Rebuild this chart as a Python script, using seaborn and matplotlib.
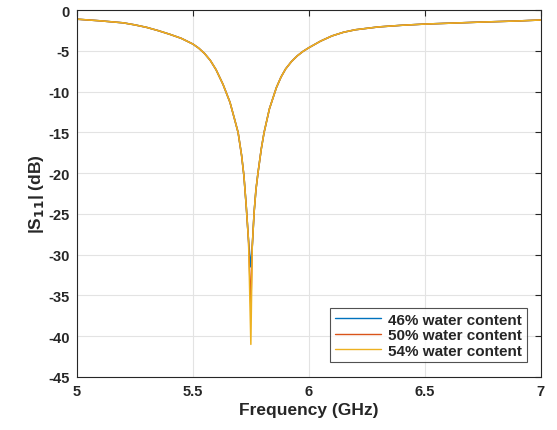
import matplotlib
matplotlib.use("Agg")
import matplotlib.pyplot as plt
import numpy as np
import pandas as pd
import seaborn as sns

# Frequency points (GHz)
freq = [5.00, 5.10, 5.20, 5.25, 5.30, 5.35, 5.40, 5.45, 5.50, 5.525, 5.55, 5.575,
        5.60, 5.63, 5.66, 5.68, 5.695, 5.71, 5.72, 5.73, 5.74, 5.75, 5.756, 5.764,
        5.772, 5.781, 5.795, 5.807, 5.83, 5.86, 5.88, 5.90, 5.925, 5.95, 5.975,
        6.00, 6.05, 6.10, 6.15, 6.20, 6.30, 6.40, 6.50, 6.60, 6.75, 6.90, 7.00]

# shared shape, only the resonance depth differs
base = [-1.1, -1.3, -1.55, -1.8, -2.1, -2.5, -2.95, -3.45, -4.15, -4.65, -5.3, -6.15,
        -7.3, -9.1, -11.3, -13.4, -15.0, -17.8, -20.3, -24.0, -28.3, None, -29.0, -24.8,
        -22.0, -19.9, -17.0, -15.0, -12.1, -9.5, -8.2, -7.2, -6.3, -5.6, -5.05,
        -4.6, -3.8, -3.15, -2.7, -2.4, -2.05, -1.85, -1.7, -1.6, -1.45, -1.32, -1.2]

s11_46 = [v if v is not None else -31.5 for v in base]
s11_50 = [v if v is not None else -36.5 for v in base]
s11_54 = [v if v is not None else -41.0 for v in base]

labels = ["46% water content", "50% water content", "54% water content"]
colors = ["#0072BD", "#D95319", "#EDB120"]

df = pd.concat([
    pd.DataFrame({"freq": freq, "s11": s11_46, "series": labels[0]}),
    pd.DataFrame({"freq": freq, "s11": s11_50, "series": labels[1]}),
    pd.DataFrame({"freq": freq, "s11": s11_54, "series": labels[2]}),
])

sns.set_style("white")
plt.rcParams["font.family"] = ["Liberation Sans", "DejaVu Sans"]
plt.rcParams["font.weight"] = "bold"
plt.rcParams["mathtext.default"] = "bf"
plt.rcParams["axes.unicode_minus"] = False

fig = plt.figure(figsize=(5.57, 4.31), dpi=100)
ax = fig.add_axes([0.138, 0.123, 0.833, 0.851])

sns.lineplot(data=df, x="freq", y="s11", hue="series", palette=colors,
             estimator=None, sort=False, linewidth=1.1, ax=ax)

ax.set_xlim(5, 7)
ax.set_ylim(-45, 0)
ax.set_xticks([5, 5.5, 6, 6.5, 7])
ax.set_xticklabels(["5", "5.5", "6", "6.5", "7"])
ax.set_yticks(np.arange(-45, 1, 5))
ax.grid(True, color="#e3e3e3", linewidth=0.8)
ax.tick_params(direction="in", length=4, width=0.8, colors="#262626",
               labelsize=10.5, top=True, right=True, pad=5)
for lab in ax.get_xticklabels() + ax.get_yticklabels():
    lab.set_fontweight("bold")
for sp in ax.spines.values():
    sp.set_color("#262626")
    sp.set_linewidth(0.8)

ax.set_xlabel("Frequency (GHz)", fontsize=12.5, fontweight="bold", color="#262626", labelpad=3)
ax.set_ylabel("|S$_{11}$| (dB)", fontsize=12.5, fontweight="bold", color="#262626", labelpad=2)

leg = ax.legend(loc="lower right", bbox_to_anchor=(0.97, 0.04), fontsize=11,
                frameon=True, fancybox=False, handlelength=3.0, borderpad=0.3,
                labelspacing=0.1, handletextpad=0.5, borderaxespad=0)
leg.get_frame().set_edgecolor("#262626")
leg.get_frame().set_linewidth(0.8)
for t in leg.get_texts():
    t.set_fontweight("bold")
    t.set_color("#262626")
for line in leg.get_lines():
    line.set_linewidth(1.0)

fig.savefig("out.png", dpi=100)
